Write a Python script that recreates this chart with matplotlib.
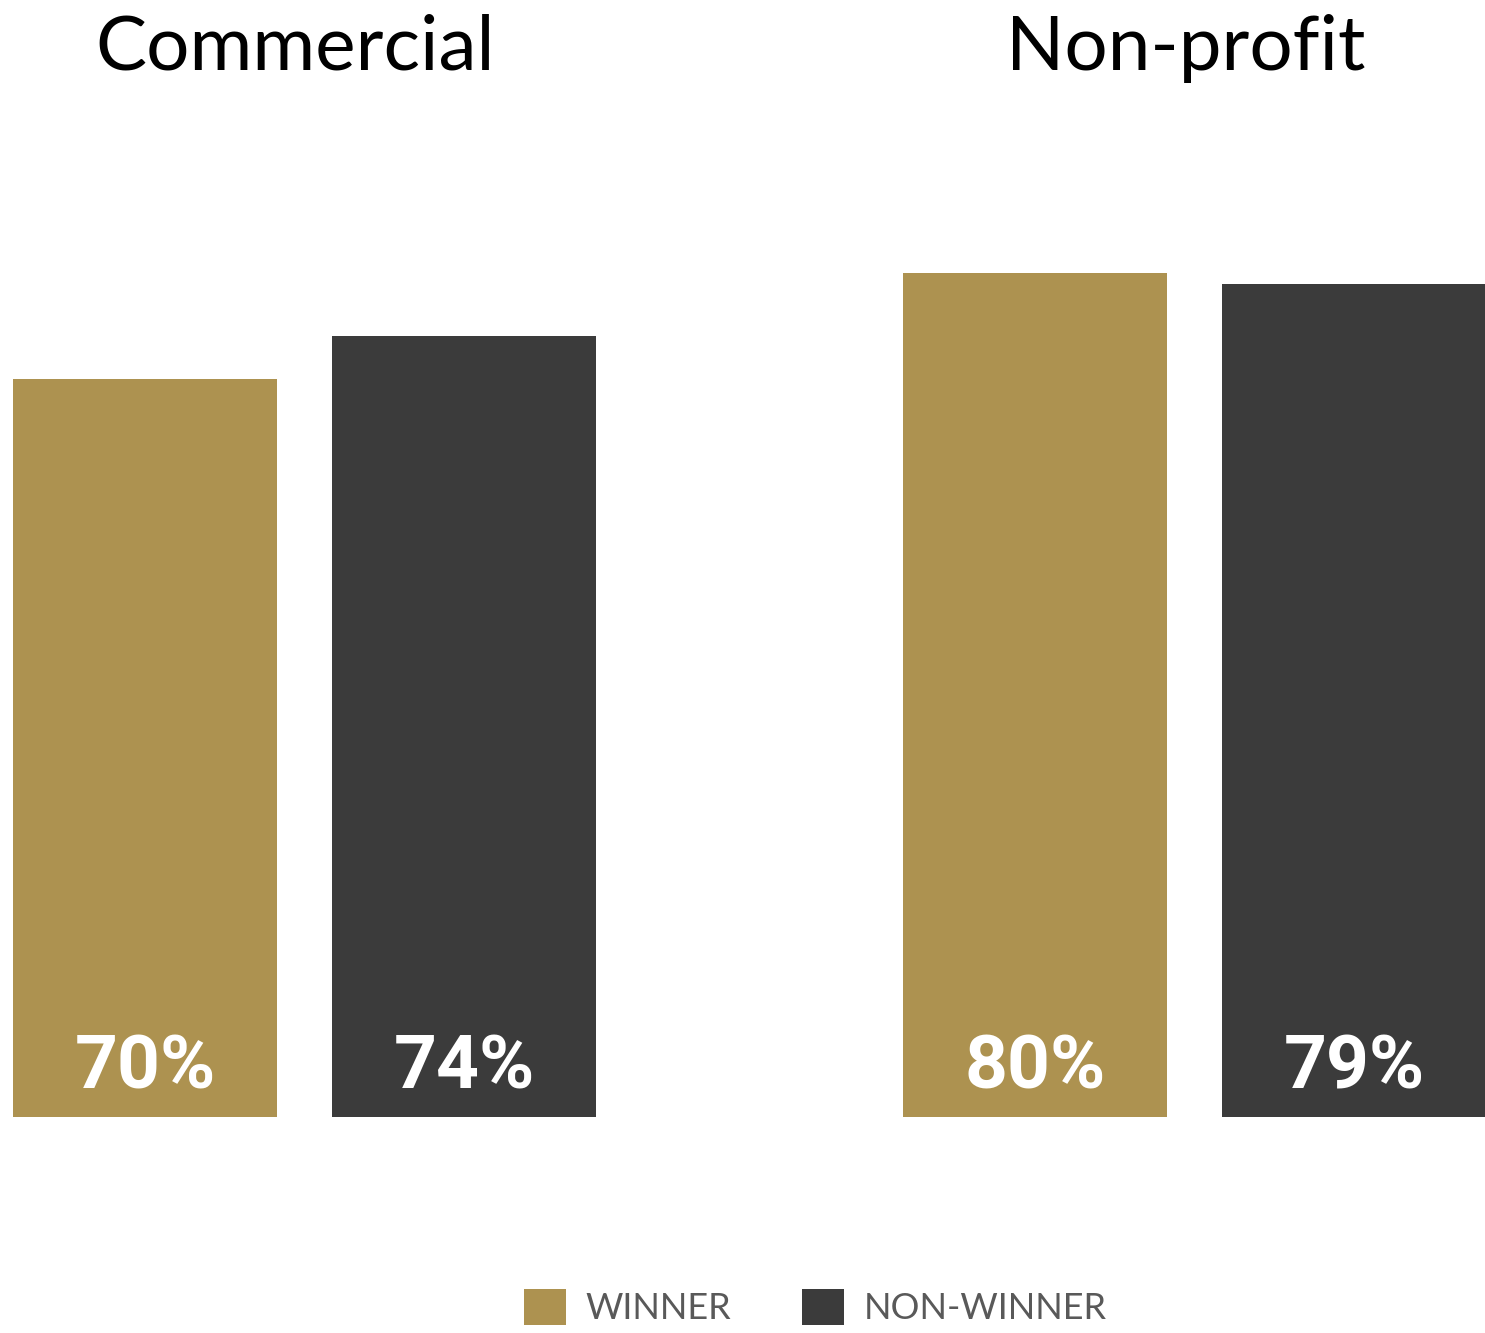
import matplotlib.pyplot as plt
from matplotlib.patches import Patch
import numpy as np

groups = ["Commercial", "Non-profit"]
series = ["WINNER", "NON-WINNER"]
winner = [70, 80]
non_winner = [74, 79]
colors = ["#AD9250", "#3B3B3B"]

fig = plt.figure(figsize=(14.85, 13.33), dpi=100)
ax = fig.add_axes([0, 0.162, 1, 0.7914])

x = np.arange(len(groups))
width = 0.2966
offset = 0.1792

for vals, dx, c in zip([winner, non_winner], [-offset, offset], colors):
    bars = ax.bar(x + dx, vals, width=width, color=c)
    for b, v in zip(bars, vals):
        ax.text(b.get_x() + b.get_width() / 2, 2.75, f"{v}%", ha="center",
                va="baseline", color="white", fontsize=54,
                fontfamily="Roboto", fontweight="bold")

# group titles above each pair
for xi, name in zip(x, groups):
    ax.text(xi - 0.01, 99.3, name, ha="center", va="baseline", fontsize=55,
            fontfamily="Lato", clip_on=False)

ax.set_xlim(-0.3421, 1.3264)
ax.set_ylim(0, 100)
ax.axis("off")

handles = [Patch(facecolor=c) for c in colors]
fig.legend(handles, series, loc="center", bbox_to_anchor=(0.549, 0.0195),
           ncol=2, frameon=False, labelcolor="#595959",
           handlelength=1.17, handleheight=1.17, handletextpad=0.55,
           columnspacing=1.95, prop={"family": "Lato", "size": 26})

fig.savefig("out.png", dpi=100)
